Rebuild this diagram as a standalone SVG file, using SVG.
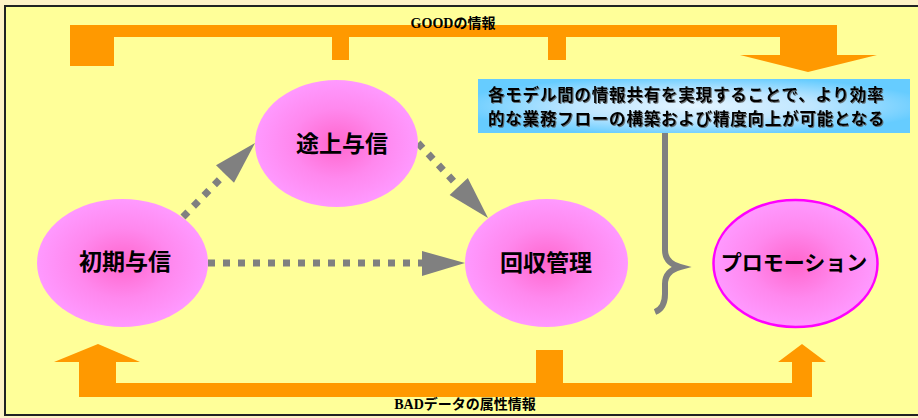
<svg xmlns="http://www.w3.org/2000/svg" width="918" height="418" viewBox="0 0 918 418">
<defs>
<radialGradient id="pink" cx="0.5" cy="0.5" r="0.5">
<stop offset="0" stop-color="#FF66CC"/>
<stop offset="0.55" stop-color="#FF88EE"/>
<stop offset="1" stop-color="#FF99FF"/>
</radialGradient>
<radialGradient id="blue" cx="0.5" cy="0.5" r="0.55">
<stop offset="0" stop-color="#E4F4FF"/>
<stop offset="0.5" stop-color="#BFE6FF"/>
<stop offset="1" stop-color="#66CCFF"/>
</radialGradient>
<filter id="shadow" x="-5%" y="-20%" width="110%" height="140%">
<feDropShadow dx="1" dy="1" stdDeviation="0.4" flood-color="#555555" flood-opacity="0.8"/>
</filter>
</defs>
<style>
.node{fill:url(#pink);}
.lbl{font-family:"Noto Sans CJK JP","Noto Sans",sans-serif;font-weight:bold;font-size:23px;fill:#000;text-anchor:middle;dominant-baseline:central;}
.cap{font-family:"Liberation Serif","Noto Sans CJK JP",serif;font-weight:bold;font-size:14px;fill:#000;text-anchor:middle;}
.note{font-family:"Noto Sans CJK JP","Noto Sans",sans-serif;font-weight:bold;font-size:16.5px;letter-spacing:0.8px;fill:#000;}
.dot{stroke:#808080;stroke-width:7;stroke-dasharray:7 8;fill:none;}
.head{fill:#808080;}
.big{fill:#FF9900;}
</style>
<rect x="0" y="0" width="918" height="418" fill="#FFF2C6"/>
<rect x="5" y="6" width="925" height="409" fill="#FFFF99" stroke="#222" stroke-width="2"/>

<g id="good-arrow">
<path class="big" d="M70,25 H837 V55 H877 L808,72 L740,55 H780 V37 H566 V60 H548 V37 H349 V60 H332 V37 H114 V66 H70 Z"/>
<text class="cap" x="453" y="28">GOODの情報</text>
</g>

<g id="bad-arrow">
<path class="big" d="M98,344 L140,362 H116 V383 H536 V350 H563 V383 H792 V362 H778 L802,344 L826,362 H812 V397 H79 V362 H54 Z"/>
<text class="cap" x="465" y="409">BADデータの属性情報</text>
</g>

<g id="connectors">
<line class="dot" x1="208" y1="263" x2="422" y2="263"/>
<polygon class="head" points="422,251 422,276 465,263"/>
<line class="dot" x1="183" y1="217" x2="225" y2="174"/>
<polygon class="head" points="234,182.7 216,165.3 255,143"/>
<line class="dot" x1="418" y1="143" x2="459" y2="187"/>
<polygon class="head" points="467.8,178.1 449.6,195.1 488,218"/>
<path d="M665,133 V250 Q665,263 680,267 Q665,271 665,284 V294 Q665,308 655,312" fill="none" stroke="#808080" stroke-width="6"/>
</g>

<g id="note">
<rect x="478" y="79" width="432" height="54" fill="url(#blue)"/>
<text class="note" filter="url(#shadow)"><tspan x="488" y="101">各モデル間の情報共有を実現することで、より効率</tspan><tspan x="488" y="125">的な業務フローの構築および精度向上が可能となる</tspan></text>
</g>

<g id="node-shoki">
<ellipse class="node" cx="122.5" cy="263" rx="85.5" ry="64"/>
<text class="lbl" x="125" y="260">初期与信</text>
</g>
<g id="node-tojo">
<ellipse class="node" cx="336.5" cy="143.5" rx="81.5" ry="63.5"/>
<text class="lbl" x="342" y="142">途上与信</text>
</g>
<g id="node-kaishu">
<ellipse class="node" cx="546.5" cy="263" rx="81.5" ry="64"/>
<text class="lbl" x="546" y="261">回収管理</text>
</g>
<g id="node-promotion">
<ellipse class="node" cx="795.5" cy="263.5" rx="82" ry="63.5" stroke="#FF00FF" stroke-width="2.5"/>
<text class="lbl" x="794" y="261" style="font-size:21px">プロモーション</text>
</g>
</svg>
